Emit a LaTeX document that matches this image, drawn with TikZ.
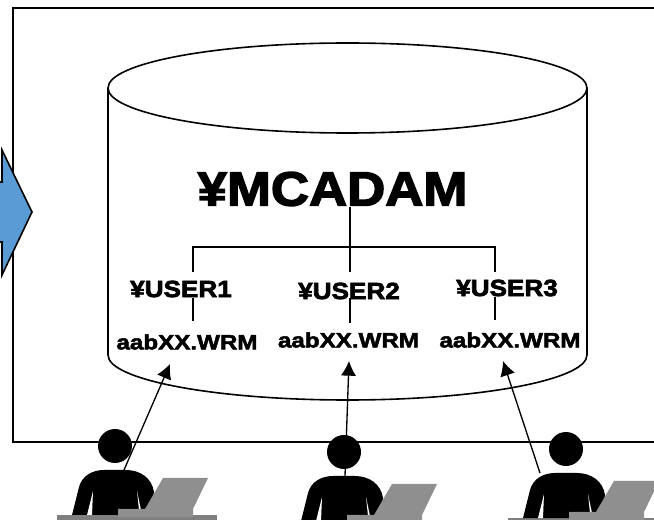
\documentclass[tikz,border=0pt]{standalone}
\usepackage{fontspec}
\usetikzlibrary{arrows.meta}
\newfontfamily\bigfont[FakeBold=3,FakeStretch=1.1]{Liberation Sans Bold}
\newfontfamily\userfont[FakeBold=3,FakeStretch=1.12]{Liberation Sans Bold}
\newfontfamily\filefont[FakeBold=2.5,FakeStretch=1.17]{Liberation Sans Bold}
\definecolor{blockblue}{HTML}{5B9BD5}
\definecolor{deskgray}{HTML}{7F7F7F}
\definecolor{lapgray}{HTML}{8F8F8F}
\newcommand{\person}[3]{%
  \begin{scope}[shift={(#1,#2)}]
    \fill[deskgray] (57,515) rectangle (217,520);
    \fill (72,515) -- (79,487) .. controls (82,476) and (92,470) .. (104,470) -- (126,470)
      .. controls (140,470) and (152,478) .. (154,492) -- (150,515) -- cycle;
    \fill[white] (93,491) -- (92,515) -- (87,515) -- cycle;
    \fill[white] (137,491) -- (141,510) -- (139,510) -- cycle;
    \node[headdot] (head#3) at (115,446) {};
    \coordinate (body#3) at (124,470);
    \fill[lapgray] (163,478) -- (208,478) -- (193,509) -- (193,517) -- (118,517) -- (118,509) -- (145,509) -- cycle;
  \end{scope}}
\tikzset{
  outline/.style={line width=1.2pt},
  headdot/.style={circle,fill=black,minimum size=25.5pt,inner sep=0pt},
  bigdir/.style={font=\bigfont\fontsize{36}{36}\selectfont,inner sep=0pt},
  userdir/.style={font=\userfont\fontsize{17.5}{18}\selectfont,inner sep=0pt},
  wrmfile/.style={font=\filefont\fontsize{15.5}{16}\selectfont,inner sep=0pt},
  treeline/.style={line width=1pt},
  accessarrow/.style={line width=1pt,-{Latex[length=11pt,width=11.5pt]}}
}

\begin{document}
\begin{tikzpicture}[x=0.75pt,y=-0.75pt]
  \useasboundingbox (0,0) rectangle (654,520);
  \clip (0,0) rectangle (654,520);
  % frame
  \draw[outline] (654,8) -- (13,8) -- (13,442) -- (654,442);
  % block arrow
  \draw[outline,fill=blockblue,line join=miter] (-2,182) -- (2,182) -- (2,150) -- (32,212) -- (2,275) -- (2,242) -- (-2,242);
  % drum
  \draw[outline,fill=white] (108,88) -- (108,355) arc[start angle=180,end angle=0,x radius=239.5,y radius=45] -- (587,88);
  \draw[outline,fill=white] (347.5,88) ellipse[x radius=239.5,y radius=45];
  % folders
  \node[bigdir] (mcadam) at (332.5,189) {¥MCADAM};
  \node[userdir] (user1) at (181,289) {¥USER1};
  \node[userdir] (user2) at (349,291) {¥USER2};
  \node[userdir] (user3) at (507,288) {¥USER3};
  \node[wrmfile] (file1) at (187,342) {aabXX.WRM};
  \node[wrmfile] (file2) at (348.5,340) {aabXX.WRM};
  \node[wrmfile] (file3) at (510,340) {aabXX.WRM};
  \coordinate (busl) at (193,247);
  \coordinate (busr) at (495,247);
  \coordinate (drop1) at (193,272);
  \coordinate (drop2) at (350,272);
  \coordinate (drop3) at (495,272);
  \draw[treeline] (350,207) -- (drop2);
  \draw[treeline] (drop1) -- (busl) -- (busr) -- (drop3);
  \draw[treeline] (193,298) -- (193,321);
  \draw[treeline] (350,298) -- (350,323);
  \draw[treeline] (495,297) -- (495,320);
  % users
  \person{0}{0}{1}
  \person{229}{6}{2}
  \person{451}{3}{3}
  \coordinate (drum1) at (170,364);
  \coordinate (drum2) at (349,361);
  \coordinate (drum3) at (503,361);
  \draw[accessarrow] (body1) -- (drum1);
  \draw[accessarrow] (body2) ++(-8,0) -- (drum2);
  \draw[accessarrow] (body3) ++(-35,0) -- (drum3);
\end{tikzpicture}
\end{document}
